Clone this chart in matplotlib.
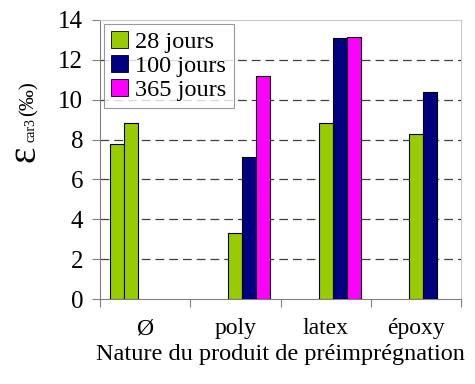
import numpy as np
import matplotlib
matplotlib.use("Agg")
import matplotlib.pyplot as plt
from matplotlib.patches import Patch

plt.rcParams['font.family'] = ['Liberation Serif', 'DejaVu Serif']

# data (strain in per mille)
categories = ['Ø', 'poly', 'latex', 'époxy']
ref_a = [7.8, np.nan, np.nan, np.nan]      # reference concrete, 1st batch (28 days)
ref_b = [8.85, np.nan, np.nan, np.nan]     # reference concrete, 2nd batch (28 days)
j28 = [np.nan, 3.3, 8.85, 8.3]
j100 = [np.nan, 7.15, 13.1, 10.4]
j365 = [np.nan, 11.2, 13.15, np.nan]
series_labels = ['28 jours', '100 jours', '365 jours']
y_ticks = [0, 2, 4, 6, 8, 10, 12, 14]

green = '#99CC00'
navy = '#000080'
magenta = '#FF00FF'

W, H = 475, 384
fig = plt.figure(figsize=(W / 100, H / 100), dpi=100)
ax = fig.add_axes([100 / W, 1 - 299 / H, 361 / W, 279 / H])

x = np.arange(len(categories))
w = 14 / 90.0   # five slots per group
series = [(ref_a, green), (ref_b, green), (j28, green), (j100, navy), (j365, magenta)]
for k, (vals, col) in enumerate(series):
    ax.bar(x + (k - 2) * w, vals, width=w, color=col, edgecolor='black',
           linewidth=0.8, zorder=3)

ax.set_xlim(-0.5, len(categories) - 0.5)
ax.set_ylim(0, 14)
ax.set_yticks(y_ticks)
for v in y_ticks[1:-1]:
    ax.axhline(v, color='#404040', linestyle=(0, (7, 4)), linewidth=0.9, zorder=1)

# category boundaries as major ticks, names as minor ticks
ax.set_xticks(np.arange(len(categories) + 1) - 0.5)
ax.set_xticklabels([])
ax.set_xticks(x, minor=True)
ax.set_xticklabels(categories, minor=True)
ax.tick_params(axis='x', which='minor', length=0, pad=14, labelsize=17)
ax.tick_params(axis='x', which='major', length=6, color='#808080', direction='out')
ax.tick_params(axis='y', length=6, color='#808080', direction='out', labelsize=18, pad=6)

for side in ['left', 'bottom']:
    ax.spines[side].set_color('#808080')
for side in ['top', 'right']:
    ax.spines[side].set_color('#c8c8c8')

ax.set_xlabel('Nature du produit de préimprégnation', fontsize=17.5, labelpad=3)

# y label built from pieces: big epsilon, subscript, unit
fig.text(25 / W, 1 - 154 / H, 'ε', fontsize=28, rotation=90, ha='center', va='center')
fig.text(31 / W, 1 - 130 / H, 'car3', fontsize=10, rotation=90, ha='center', va='center')
fig.text(29 / W, 1 - 99 / H, '(‰)', fontsize=15, rotation=90, ha='center', va='center')

handles = [Patch(facecolor=c, edgecolor='black', linewidth=0.6) for c in [green, navy, magenta]]
leg = ax.legend(handles, series_labels, loc='upper left', fontsize=17.5,
                frameon=True, fancybox=False, borderpad=0.3, labelspacing=0.08,
                handlelength=0.7, handleheight=0.7, handletextpad=0.3,
                borderaxespad=0.15)
leg.get_frame().set_edgecolor('#808080')
leg.get_frame().set_linewidth(0.8)

fig.savefig('out.png', dpi=100)
